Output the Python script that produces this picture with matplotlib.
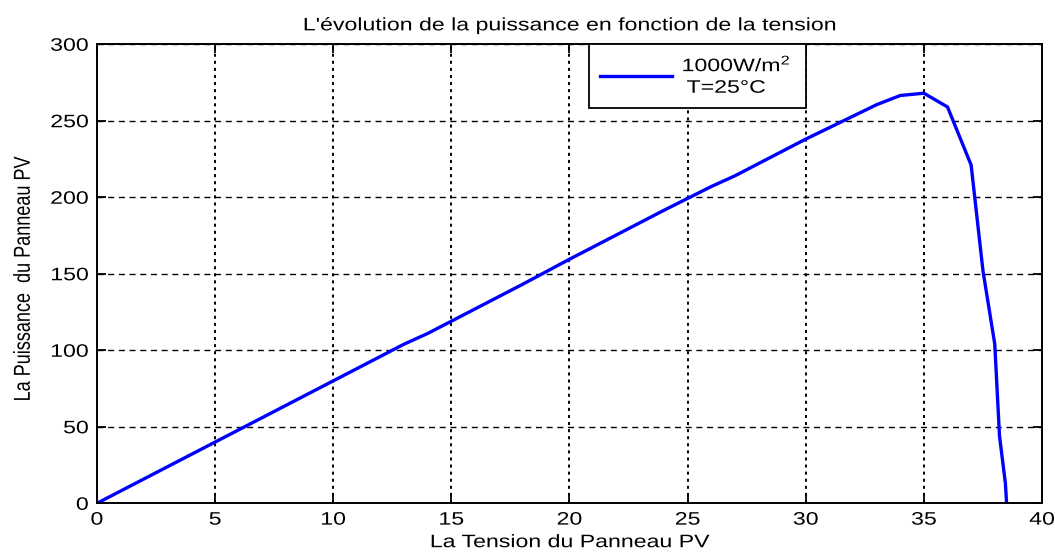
import matplotlib
matplotlib.use("Agg")
import matplotlib.pyplot as plt
from matplotlib.patheffects import AbstractPathEffect
from matplotlib.transforms import Affine2D

# P-V characteristic of the PV panel (1000 W/m², 25 °C)
tension = [0, 2, 4, 6, 8, 10, 12, 13, 14, 16, 18, 20, 22, 24, 26, 27, 28, 30,
           31, 32, 33, 34, 35, 36, 37, 37.5, 38, 38.2, 38.45, 38.5]
puissance = [0, 16, 32, 48, 64, 80, 96, 104, 111, 127, 143, 159.5, 175.5, 191.5,
             207, 214, 222, 238, 245.5, 253, 260.5, 266.5, 268, 259, 221, 152,
             104, 44, 13, 0]

x_ticks = [0, 5, 10, 15, 20, 25, 30, 35, 40]
y_ticks = [0, 50, 100, 150, 200, 250, 300]

FS = 13        # font size (pt)
WIDE = 1.28    # horizontal widening of the glyphs


class WideText(AbstractPathEffect):
    """Widen text glyphs horizontally around a chosen anchor of the ink box."""

    def __init__(self, sx=WIDE, anchor="center"):
        super().__init__()
        self.sx = sx
        self.anchor = anchor

    def draw_path(self, renderer, gc, tpath, affine, rgbFace=None):
        ext = tpath.get_extents(affine)
        if self.anchor == "left":
            cx = ext.x0
        elif self.anchor == "right":
            cx = ext.x1
        else:
            cx = 0.5 * (ext.x0 + ext.x1)
        t = affine + Affine2D().translate(-cx, 0).scale(self.sx, 1).translate(cx, 0)
        renderer.draw_path(gc, tpath, t, rgbFace)


plt.rcParams['font.family'] = ['Liberation Sans', 'DejaVu Sans']
plt.rcParams['mathtext.fontset'] = 'custom'
plt.rcParams['mathtext.rm'] = 'Liberation Sans'
plt.rcParams['mathtext.it'] = 'Liberation Sans'
plt.rcParams['font.size'] = FS
plt.rcParams['lines.scale_dashes'] = False

fig = plt.figure(figsize=(10.55, 5.53), dpi=100)
ax = fig.add_axes([0.0919, 0.0899, 0.8958, 0.8301])

ax.plot(tension, puissance, color='#0000ff', lw=2.4, solid_joinstyle='round',
        label='1000W/m$^{2}$\n T=25°C')

ax.set_xlim(0, 40)
ax.set_ylim(0, 300)
ax.set_xticks(x_ticks)
ax.set_yticks(y_ticks)
ax.tick_params(direction='in', length=6.8, width=1.3, top=True, right=True,
               labelsize=FS, colors='black')
ax.tick_params(axis='x', pad=6)
ax.tick_params(axis='y', pad=6)
for s in ax.spines.values():
    s.set_linewidth(1.4)
    s.set_color('black')
    s.set_zorder(3)

# vertical grid lines: short dashes; horizontal ones: longer dashes
ax.xaxis.grid(True, color='black', linestyle=(0, (2.2, 2.9)), linewidth=1.4)
ax.yaxis.grid(True, color='black', linestyle=(0, (4.3, 3.4)), linewidth=1.0)
ax.set_axisbelow(True)

title = ax.set_title("L'évolution de la puissance en fonction de la tension",
                     fontsize=FS, pad=10)
xl = ax.set_xlabel('La Tension du Panneau PV', fontsize=FS, labelpad=4)
yl = ax.set_ylabel('La Puissance  du Panneau PV', fontsize=FS, labelpad=19)
ax.yaxis.label.set_y(0.488)

for t in (title, xl, yl):
    t.set_path_effects([WideText(anchor="center")])
for t in ax.get_xticklabels():
    t.set_path_effects([WideText(anchor="center")])
for t in ax.get_yticklabels():
    t.set_path_effects([WideText(anchor="right")])

x0 = (589 - 97) / 945
w = (806 - 589) / 945
leg = ax.legend(loc='upper left', bbox_to_anchor=(x0, 0.8, w, 0.2),
                mode='expand', borderaxespad=0, fancybox=False,
                framealpha=1, edgecolor='black', handlelength=4.0,
                handletextpad=0.55, borderpad=0.6, fontsize=FS,
                labelspacing=0.3)
leg.get_frame().set_linewidth(1.3)
for t in leg.get_texts():
    t.set_linespacing(1.35)
    t.set_path_effects([WideText(anchor="left")])

fig.savefig('out.png', dpi=100)
